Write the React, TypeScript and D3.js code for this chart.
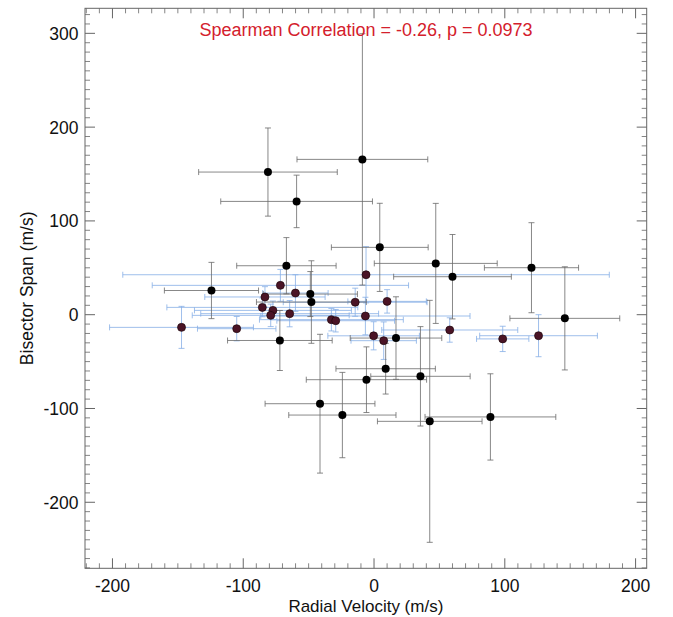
import React from "react";
import * as d3 from "d3";

// ---- data ----
// black series (black markers, gray error bars)
const blackX = [-81.1, -59.2, -8.9, 4.4, 47.2, 60.0, 120.4, 145.9, -124.3, -67.0, -72.0, -48.7, -47.9, -5.8, 8.9, 16.8, 35.5, 42.6, 89.0, -41.3, -24.2];
const blackY = [152.1, 120.8, 165.6, 71.8, 54.7, 40.5, 50.1, -3.9, 25.8, 52.2, -27.5, 22.0, 13.5, -69.3, -57.6, -24.9, -65.7, -113.7, -109.0, -94.9, -107.0];
const blackXErr = [53, 58, 50, 37, 47, 45, 36, 42, 36, 38, 40, 36, 42, 46, 38, 35, 38, 40, 50, 42, 41];
const blackYErr = [47, 28, 134, 47, 64, 45, 48, 55, 30, 30, 32, 24, 44, 35, 27, 44, 53, 129, 46, 74, 45.5];

// maroon series (dark red markers, blue error bars)
const redX = [-6.1, -71.6, -60.1, -83.4, -85.4, -77.3, -79.0, -64.5, -14.4, 10.0, -6.6, -32.6, -29.3, -147.2, -105.0, -0.3, 7.4, 57.9, 98.4, 125.8];
const redY = [42.6, 31.3, 23.1, 18.9, 7.8, 4.6, -0.7, 1.1, 13.3, 14.2, -1.4, -5.3, -6.4, -13.5, -14.9, -22.5, -27.7, -16.3, -25.8, -22.4];
const redXErr = [186, 98, 25, 46, 73, 60, 60, 68, 55, 30, 80, 55, 45, 55, 30, 35, 25, 52, 20, 45];
const redYErr = [30, 17, 19.5, 11, 10, 10, 12, 14, 15, 12.5, 20, 12, 12, 22.4, 13, 15, 20, 13, 13.5, 22.4];

const xMajorTicks = [-200, -100, 0, 100, 200];
const yMajorTicks = [-200, -100, 0, 100, 200, 300];
const xDomain = [-221, 208.5];
const yDomain = [-270.4, 326.7];

const titleText = "Spearman Correlation = -0.26, p = 0.0973";
const xLabel = "Radial Velocity (m/s)";
const yLabel = "Bisector Span (m/s)";

// ---- layout ----
const W = 673;
const H = 617;
const L = 85, R = 646.7, T = 8.3, B = 568.3;
const FONT = "'Liberation Sans', Arial, Helvetica, sans-serif";
const AXIS = "#666";

export default function App() {
  const x = d3.scaleLinear().domain(xDomain).range([L, R]);
  const y = d3.scaleLinear().domain(yDomain).range([B, T]);

  const xMinor = d3.range(-220, 209, 10).filter((v) => v % 100 !== 0);
  const yMinor = d3.range(-270, 327, 10).filter((v) => v % 100 !== 0);

  const cap = 3;

  const errBars = (xs: number[], ys: number[], xe: number[], ye: number[], color: string, key: string) =>
    xs.map((xv, i) => {
      const cx = x(xv), cy = y(ys[i]);
      const x0 = x(xv - xe[i]), x1 = x(xv + xe[i]);
      const y0 = y(ys[i] - ye[i]), y1 = y(ys[i] + ye[i]);
      return (
        <g key={key + i} stroke={color} strokeWidth={0.8} fill="none">
          <line x1={x0} x2={x1} y1={cy} y2={cy} />
          <line x1={x0} x2={x0} y1={cy - cap} y2={cy + cap} />
          <line x1={x1} x2={x1} y1={cy - cap} y2={cy + cap} />
          <line x1={cx} x2={cx} y1={y0} y2={y1} />
          <line x1={cx - cap} x2={cx + cap} y1={y0} y2={y0} />
          <line x1={cx - cap} x2={cx + cap} y1={y1} y2={y1} />
        </g>
      );
    });

  return (
    <svg
      width={W}
      height={H}
      style={{ position: "absolute", left: 0, top: 0, background: "#fff" }}
      fontFamily={FONT}
    >
      <rect x={0} y={0} width={W} height={H} fill="#fff" />

      {/* error bars */}
      {errBars(redX, redY, redXErr, redYErr, "#86aee6", "re")}
      {errBars(blackX, blackY, blackXErr, blackYErr, "#6a6a6a", "be")}

      {/* markers */}
      {redX.map((xv, i) => (
        <circle key={"r" + i} cx={x(xv)} cy={y(redY[i])} r={4} fill="#4a1426" stroke="#1c0509" strokeWidth={0.7} />
      ))}
      {blackX.map((xv, i) => (
        <circle key={"b" + i} cx={x(xv)} cy={y(blackY[i])} r={4} fill="#000" />
      ))}

      {/* frame */}
      <rect x={L} y={T} width={R - L} height={B - T} fill="none" stroke={AXIS} strokeWidth={1} />

      {/* x ticks (bottom and top) */}
      {xMajorTicks.map((v) => (
        <g key={"xm" + v} stroke={AXIS} strokeWidth={1}>
          <line x1={x(v)} x2={x(v)} y1={B} y2={B - 10} />
          <line x1={x(v)} x2={x(v)} y1={T} y2={T + 10} />
        </g>
      ))}
      {xMinor.map((v) => (
        <g key={"xn" + v} stroke={AXIS} strokeWidth={0.8}>
          <line x1={x(v)} x2={x(v)} y1={B} y2={B - 5} />
          <line x1={x(v)} x2={x(v)} y1={T} y2={T + 5} />
        </g>
      ))}
      {/* y ticks (left and right) */}
      {yMajorTicks.map((v) => (
        <g key={"ym" + v} stroke={AXIS} strokeWidth={1}>
          <line x1={L} x2={L + 10} y1={y(v)} y2={y(v)} />
          <line x1={R} x2={R - 10} y1={y(v)} y2={y(v)} />
        </g>
      ))}
      {yMinor.map((v) => (
        <g key={"yn" + v} stroke={AXIS} strokeWidth={0.8}>
          <line x1={L} x2={L + 5} y1={y(v)} y2={y(v)} />
          <line x1={R} x2={R - 5} y1={y(v)} y2={y(v)} />
        </g>
      ))}

      {/* tick labels */}
      {xMajorTicks.map((v) => (
        <text key={"xl" + v} x={x(v)} y={592} textAnchor="middle" fontSize={17.5} fill="#111">
          {String(v)}
        </text>
      ))}
      {yMajorTicks.map((v) => (
        <text key={"yl" + v} x={78.5} y={y(v) + 6.5} textAnchor="end" fontSize={17.5} fill="#111">
          {String(v)}
        </text>
      ))}

      {/* axis titles */}
      <text x={(L + R) / 2} y={612} textAnchor="middle" fontSize={17} fill="#111">
        {xLabel}
      </text>
      <text
        transform={`translate(33, ${(T + B) / 2}) rotate(-90)`}
        textAnchor="middle"
        fontSize={17.5}
        fill="#111"
      >
        {yLabel}
      </text>

      {/* title */}
      <text x={366} y={35.5} textAnchor="middle" fontSize={18} fill="#d4202c">
        {titleText}
      </text>
    </svg>
  );
}
